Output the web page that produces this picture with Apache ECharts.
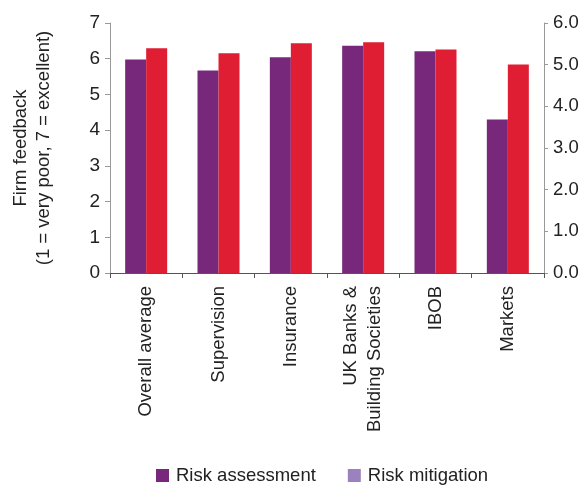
<!DOCTYPE html>
<html>
<head>
<meta charset="utf-8">
<script src="https://cdn.jsdelivr.net/npm/echarts@6/dist/echarts.min.js"></script>
<style>
  html, body { margin: 0; padding: 0; background: #fff; }
  #chart { width: 582px; height: 486px; }
</style>
</head>
<body>
<div id="chart"></div>
<script>
// Firm feedback scores by sector
const categories = ['Overall average', 'Supervision', 'Insurance', 'UK Banks &\nBuilding Societies', 'IBOB', 'Markets'];
const riskAssessment = [5.98, 5.67, 6.04, 6.36, 6.21, 4.30];
const riskMitigation = [6.29, 6.15, 6.43, 6.46, 6.26, 5.84];
const leftTicks = [0, 7, 1];
const rightTicks = [0, 6, 1];

const FONT = 'Liberation Sans, Arial, sans-serif';
const chart = echarts.init(document.getElementById('chart'), null, { renderer: 'canvas' });

chart.setOption({
  animation: false,
  textStyle: { fontFamily: FONT },
  grid: { left: 110, right: 38, top: 23, bottom: 213, containLabel: false, outerBoundsMode: 'none' },
  legend: {
    top: 466,
    left: 156,
    padding: 0,
    itemWidth: 13,
    itemHeight: 13,
    itemGap: 32,
    icon: 'rect',
    textStyle: { fontFamily: FONT, fontSize: 18.5, color: '#222', padding: [0, 0, 0, 2] },
    data: [
      { name: 'Risk assessment', itemStyle: { color: '#77287a' } },
      { name: 'Risk mitigation', itemStyle: { color: '#9b82be' } }
    ]
  },
  xAxis: {
    type: 'category',
    data: categories,
    axisLine: { lineStyle: { color: '#555', width: 1 } },
    axisTick: { show: true, length: 5, lineStyle: { color: '#555' } },
    axisLabel: {
      rotate: 90,
      margin: 13,
      fontSize: 18.5,
      color: '#222',
      fontFamily: FONT,
      lineHeight: 24,
      interval: 0
    }
  },
  yAxis: [
    {
      type: 'value',
      min: leftTicks[0], max: leftTicks[1], interval: leftTicks[2],
      name: 'Firm feedback\n(1 = very poor, 7 = excellent)',
      nameLocation: 'middle',
      nameGap: 55,
      nameRotate: 90,
      nameTextStyle: { fontSize: 18.5, color: '#222', fontFamily: FONT, lineHeight: 23 },
      axisLine: { show: true, lineStyle: { color: '#999' } },
      axisTick: { show: true, length: 5, lineStyle: { color: '#999' } },
      splitLine: { show: false },
      axisLabel: { fontSize: 19, color: '#222', fontFamily: FONT, margin: 10 }
    },
    {
      type: 'value',
      position: 'right',
      min: rightTicks[0], max: rightTicks[1], interval: rightTicks[2],
      axisLine: { show: true, lineStyle: { color: '#999' } },
      axisTick: { show: true, length: 4, lineStyle: { color: '#999' } },
      splitLine: { show: false },
      axisLabel: {
        fontSize: 18.5, color: '#222', fontFamily: FONT, margin: 9,
        formatter: v => v.toFixed(1)
      }
    }
  ],
  series: [
    {
      name: 'Risk assessment',
      type: 'bar',
      yAxisIndex: 0,
      data: riskAssessment,
      barWidth: 21,
      barGap: '0%',
      itemStyle: { color: '#77287a' }
    },
    {
      name: 'Risk mitigation',
      type: 'bar',
      yAxisIndex: 0,
      data: riskMitigation,
      barWidth: 21,
      barGap: '0%',
      itemStyle: { color: '#df1d33' }
    }
  ]
});
</script>
</body>
</html>
